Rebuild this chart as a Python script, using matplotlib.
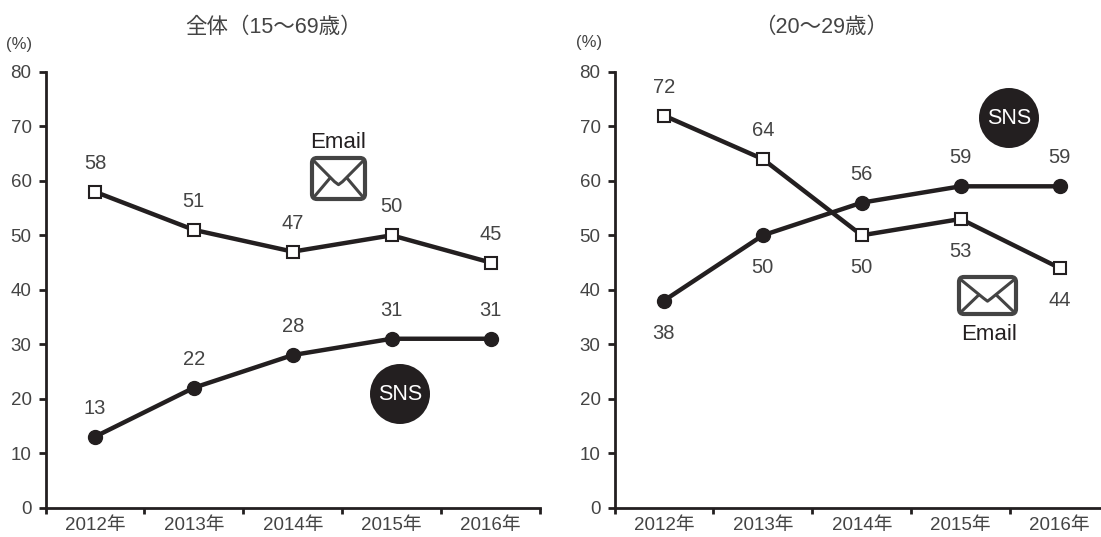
import matplotlib
matplotlib.use('Agg')
import matplotlib.pyplot as plt
from matplotlib.patches import Circle, FancyBboxPatch

plt.rcParams['font.family'] = ['Liberation Sans', 'Noto Sans CJK JP', 'DejaVu Sans']

W, H = 1101, 537
DARK = '#231f20'
GREY = '#444444'

years = ['2012年', '2013年', '2014年', '2015年', '2016年']
y_ticks = [0, 10, 20, 30, 40, 50, 60, 70, 80]

title_all = '全体（15〜69歳）'
email_all = [58, 51, 47, 50, 45]
sns_all = [13, 22, 28, 31, 31]

title_20s = '（20〜29歳）'
email_20s = [72, 64, 50, 53, 44]
sns_20s = [38, 50, 56, 59, 59]


def make_axes(fig, left, right, top=72, bottom=507.5):
    ax = fig.add_axes([left / W, 1 - bottom / H, (right - left) / W, (bottom - top) / H])
    ax.set_xlim(0, 5)
    ax.set_ylim(0, 80)
    ax.patch.set_alpha(0)
    for s in ['top', 'right']:
        ax.spines[s].set_visible(False)
    for s in ['left', 'bottom']:
        ax.spines[s].set_linewidth(2.0)
        ax.spines[s].set_color(DARK)
    ax.set_yticks(y_ticks)
    ax.set_xticks(range(6))
    ax.set_xticklabels([])
    ax.set_xticks([i + 0.5 for i in range(5)], minor=True)
    ax.set_xticklabels(years, minor=True, fontsize=13.5, color=GREY)
    ax.tick_params(axis='x', which='major', length=4, width=2, color=DARK, direction='out')
    ax.tick_params(axis='x', which='minor', length=0, pad=7)
    ax.tick_params(axis='y', length=5, width=2, color=DARK, labelsize=13.5, labelcolor=GREY, pad=5)
    return ax


def draw_series(ax, email, sns, email_above, sns_above):
    xs = [i + 0.5 for i in range(5)]
    ax.plot(xs, email, color=DARK, lw=3.2, marker='s', ms=8.5, mfc='white', mec=DARK, mew=1.5, zorder=3, clip_on=False)
    ax.plot(xs, sns, color=DARK, lw=3.2, marker='o', ms=10, mfc=DARK, mec=DARK, zorder=4, clip_on=False)
    for vals, above in [(email, email_above), (sns, sns_above)]:
        for x, v, up in zip(xs, vals, above):
            # labels sit above or below the marker, away from the crossing lines
            ax.annotate(str(v), (x, v), xytext=(0, 20.5 if up else -23.5), textcoords='offset points',
                        ha='center', va='center', fontsize=14.5, color=GREY)


def envelope(ax, x0, y0, x1, y1):
    ax.add_patch(FancyBboxPatch((x0 + 4, y0 + 4), x1 - x0 - 8, y1 - y0 - 8, boxstyle='round,pad=3,rounding_size=5',
                                fc='white', ec=GREY, lw=3))
    cx = (x0 + x1) / 2
    ym = y0 + (y1 - y0) * 0.62
    # flap and the two lower folds
    ax.plot([x0 + 2, cx - 4, cx, cx + 4, x1 - 2], [y0 + 3, ym - 2, ym + 1, ym - 2, y0 + 3], color=GREY, lw=2.2)
    ax.plot([x0 + 3, cx - 9], [y1 - 3, ym - 5], color=GREY, lw=2.2)
    ax.plot([x1 - 3, cx + 9], [y1 - 3, ym - 5], color=GREY, lw=2.2)


def sns_badge(ax, cx, cy):
    ax.add_patch(Circle((cx, cy), 30, fc=DARK, ec='none'))
    ax.text(cx, cy, 'SNS', color='white', fontsize=15.5, ha='center', va='center')


fig = plt.figure(figsize=(W / 100, H / 100), dpi=100, facecolor='white')

ax1 = make_axes(fig, 45.5, 540)
draw_series(ax1, email_all, sns_all, [True] * 5, [True] * 5)
ax2 = make_axes(fig, 614.5, 1109)
draw_series(ax2, email_20s, sns_20s, [True, True, False, False, False], [False, False, True, True, True])

# overlay in pixel units for the captions and icons
over = fig.add_axes([0, 0, 1, 1], zorder=5)
over.set_xlim(0, W)
over.set_ylim(H, 0)
over.axis('off')
over.patch.set_alpha(0)

over.text(274, 27, title_all, fontsize=15.5, color=GREY, ha='center', va='center')
over.text(821, 27, title_20s, fontsize=15.5, color=GREY, ha='center', va='center')
over.text(19, 44, '(%)', fontsize=12, color=GREY, ha='center', va='center')
over.text(589, 43, '(%)', fontsize=12, color=GREY, ha='center', va='center')

over.text(338, 142, 'Email', fontsize=16, color=DARK, ha='center', va='center')
envelope(over, 311, 157, 366, 200)
over.text(989, 334, 'Email', fontsize=16, color=DARK, ha='center', va='center')
envelope(over, 958, 276, 1017, 315)
sns_badge(over, 400, 394)
sns_badge(over, 1009, 118)

fig.savefig('out.png', dpi=100)
